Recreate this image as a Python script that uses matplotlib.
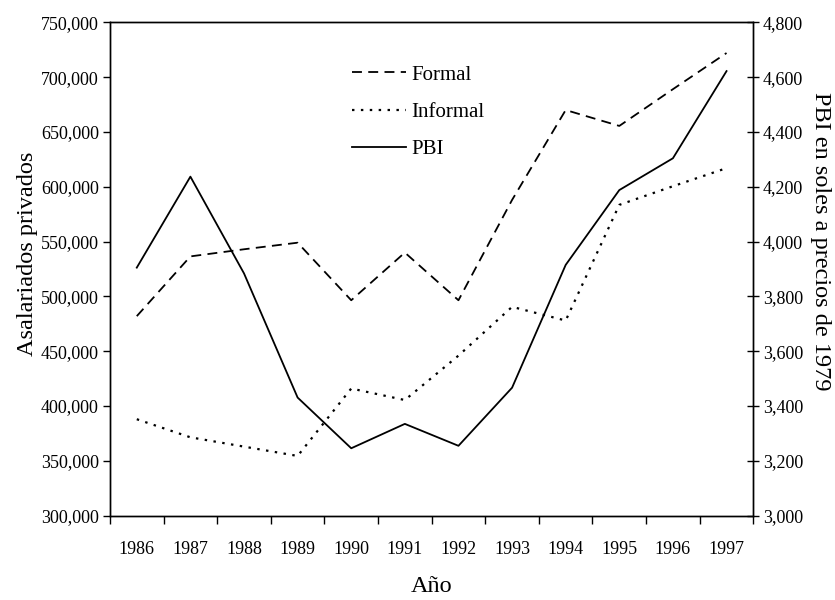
import matplotlib
matplotlib.use("Agg")
import matplotlib.pyplot as plt
from matplotlib.ticker import FuncFormatter, FixedLocator

plt.rcParams['font.family'] = ['Liberation Serif', 'DejaVu Serif']

# Data
years = [1986, 1987, 1988, 1989, 1990, 1991, 1992, 1993, 1994, 1995, 1996, 1997]
formal = [482000, 536500, 543000, 549000, 496500, 540000, 496500, 588000, 670000, 655500, 689000, 722000]
informal = [388000, 371500, 363000, 354500, 416000, 405500, 446000, 490500, 478000, 583500, 600500, 617000]
pbi = [3905, 4237, 3884, 3431, 3246, 3335, 3255, 3467, 3915, 4188, 4304, 4622]

fig = plt.figure(figsize=(8.35, 6.0), dpi=100)
ax = fig.add_axes([0.1317, 0.1405, 0.7705, 0.8223])
ax2 = ax.twinx()

x = list(range(len(years)))
l1, = ax.plot(x, formal, color="black", lw=1.3, linestyle=(0, (5.5, 3.5)), label="Formal")
l2, = ax.plot(x, informal, color="black", lw=1.6, linestyle=(0, (1.1, 2.9)), label="Informal")
l3, = ax2.plot(x, pbi, color="black", lw=1.3, label="PBI")

ax.set_xlim(-0.5, len(years) - 0.5)
ax.set_ylim(300000, 750000)
ax2.set_ylim(3000, 4800)

ax.set_yticks(range(300000, 750001, 50000))
ax.yaxis.set_major_formatter(FuncFormatter(lambda v, p: f"{int(v):,}"))
ax2.set_yticks(range(3000, 4801, 200))
ax2.yaxis.set_major_formatter(FuncFormatter(lambda v, p: f"{int(v):,}"))

# year labels at category centres, tick marks at boundaries
ax.xaxis.set_major_locator(FixedLocator([i - 0.5 for i in range(len(years) + 1)]))
ax.xaxis.set_major_formatter(FuncFormatter(lambda v, p: ""))
ax.xaxis.set_minor_locator(FixedLocator(x))
ax.set_xticklabels([str(y) for y in years], minor=True)
ax.tick_params(axis="x", which="minor", length=0, pad=18, labelsize=13)
ax.tick_params(axis="x", which="major", direction="out", length=6, width=1)
ax.tick_params(axis="y", direction="out", length=5, width=1, labelsize=13, pad=3)
ax2.tick_params(axis="y", direction="inout", length=8, width=1, labelsize=13, pad=3)

for a in (ax, ax2):
    for s in a.spines.values():
        s.set_linewidth(1)

ax.set_ylabel("Asalariados privados", fontsize=17.5)
ax.yaxis.set_label_coords(-0.112, 0.53)
ax2.set_ylabel("PBI en soles a precios de 1979", fontsize=17.5, rotation=270, va="center")
ax2.yaxis.set_label_coords(1.105, 0.557)
ax.set_xlabel("Año", fontsize=17.5, va="center")
ax.xaxis.set_label_coords(0.5, -0.143)

ax.legend(handles=[l1, l2, l3], loc="upper left", bbox_to_anchor=(0.363, 0.93),
          frameon=False, fontsize=15, handlelength=2.6, handletextpad=0.25,
          labelspacing=0.85, borderaxespad=0)

fig.savefig("out.png", dpi=100)
